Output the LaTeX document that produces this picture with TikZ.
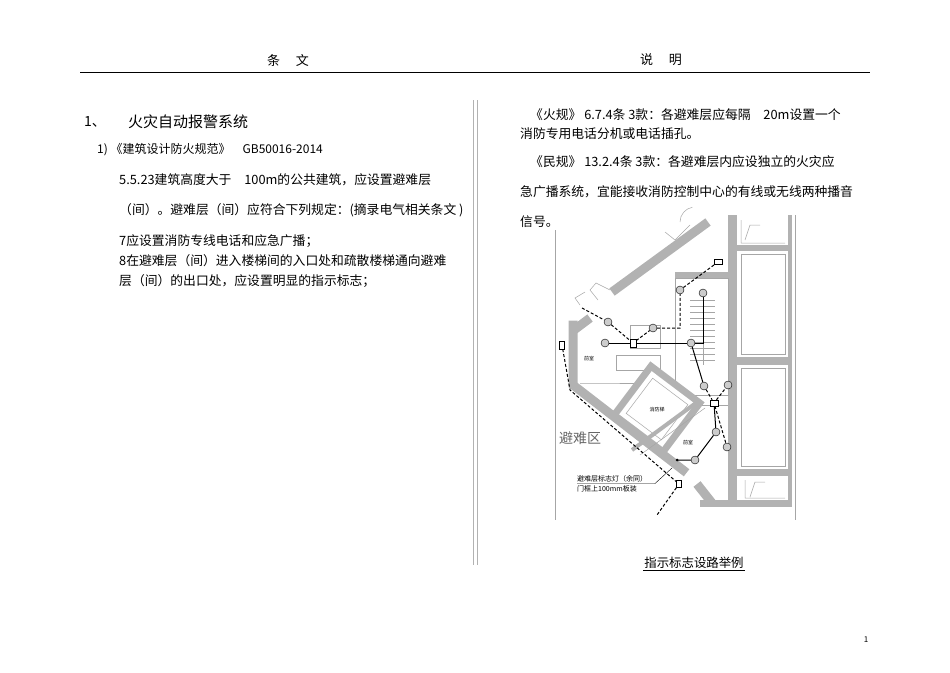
\documentclass[tikz,border=0pt]{standalone}
\usepackage{fontspec}
\setmainfont{Noto Sans CJK SC}
\begin{document}
\begin{tikzpicture}[x=1pt,y=-1pt,
  txt/.style={anchor=west,inner sep=0pt,font=\fontsize{12.8}{14}\selectfont},
  wall/.style={line width=9pt,draw=gray!60},
  thin/.style={draw=gray!70,line width=0.5pt},
  dev/.style={circle,draw=black,fill=gray!40,inner sep=0pt,minimum size=8pt},
  sol/.style={line width=1pt},
  dsh/.style={line width=1pt,dash pattern=on 3pt off 2pt},
  lab/.style={inner sep=0pt,font=\fontsize{5}{6}\selectfont}]
\useasboundingbox (0,0) rectangle (950,672);
% header
\node[inner sep=0pt,font=\fontsize{13}{15}\selectfont] (h1) at (288,60) {条\hspace{1.2em}文};
\node[inner sep=0pt,font=\fontsize{13}{15}\selectfont] (h2) at (661,60) {说\hspace{1.2em}明};
\draw[line width=0.6pt] (80,72) -- (870,72);
\draw[gray!60,line width=0.6pt] (473,100) -- (473,565) (477,100) -- (477,565);
% left text
\node[anchor=west,inner sep=0pt,font=\fontsize{14}{16}\selectfont] (n1) at (84,122) {1、};
\node[anchor=west,inner sep=0pt,font=\fontsize{15}{17}\selectfont] (t1) at (128,122) {火灾自动报警系统};
\node[txt,font=\fontsize{12}{14}\selectfont] (t2) at (97,150) {1) 《建筑设计防火规范》\quad GB50016-2014};
\node[txt] (t3) at (119,180) {5.5.23建筑高度大于\quad 100m的公共建筑，应设置避难层};
\node[txt] (t4) at (119,210) {（间）。避难层（间）应符合下列规定：(摘录电气相关条文 )};
\node[txt] (t5) at (119,241) {7应设置消防专线电话和应急广播；};
\node[txt] (t6) at (119,261) {8在避难层（间）进入楼梯间的入口处和疏散楼梯通向避难};
\node[txt] (t7) at (119,281) {层（间）的出口处，应设置明显的指示标志；};
% right text
\node[txt] (r1) at (530,115) {《火规》 6.7.4条 3款：各避难层应每隔\quad 20m设置一个};
\node[txt] (r2) at (520,134) {消防专用电话分机或电话插孔。};
\node[txt] (r3) at (530,162) {《民规》 13.2.4条 3款：各避难层内应设独立的火灾应};
\node[txt] (r4) at (520,192) {急广播系统，宜能接收消防控制中心的有线或无线两种播音};
\node[txt] (r5) at (520,222) {信号。};
\node[inner sep=1pt,font=\fontsize{12.4}{14}\selectfont] (cap) at (694,563) {指示标志设路举例};
\draw[line width=0.6pt] (cap.south west) -- (cap.south east);
\node[inner sep=0pt,font=\fontsize{8}{9}\selectfont] (pg) at (866,640) {1};
% ---------- floor plan ----------
\draw[thin] (555,230) -- (555,520);
\draw[thin] (795,215) -- (795,520);
% right rooms
\fill[gray!60] (728,215) rectangle (737,505);
\fill[gray!60] (737,245) rectangle (792,251);
\fill[gray!60] (737,357) rectangle (792,365);
\fill[gray!60] (737,469) rectangle (792,476);
\fill[gray!60] (700,500) rectangle (792,507);
\fill[gray!60] (788,215) rectangle (792,507);
\draw[thin] (741,254) rectangle (785,354) (741,368) rectangle (785,466);
\draw[thin] (741,220) -- (741,243) -- (785,243) (745,240) -- (750,225) -- (760,225) (745,480) -- (745,498) -- (785,498) (750,497) -- (755,482) -- (765,482);
% stair
\fill[gray!60] (675,272) rectangle (728,278);
\draw[thin] (675,278) rectangle (728,395);
\foreach \y in {300,306,...,360} \draw[thin] (690,\y) -- (715,\y);
\draw[thin] (703,290) -- (703,365);
% upper diagonal wall
\draw[wall] (612,292) -- (708,222);
\draw[thin] (690,225) -- (675,240) -- (665,232) (680,222) arc (180:260:15);
% left / main diagonal walls
\draw[wall,line cap=rect] (573,325) -- (573,385) -- (683,470);
\draw[wall] (697,484) -- (712,503);
\draw[wall] (590,318) -- (574,330);
\draw[thin] (598,300) -- (590,290) -- (596,283) -- (610,290) (580,305) -- (575,298) -- (585,292);
\draw[thin] (580,383) -- (600,383) -- (640,383) (616,355) rectangle (660,370) (630,325) rectangle (660,348);
\draw[thin] (655,395) -- (675,395) (700,405) -- (728,405);
% elevator
\begin{scope}[shift={(657,409)},rotate=-37]
\fill[gray!60] (-34,-34) rectangle (34,34);
\fill[white] (-27,-27) rectangle (27,27);
\draw[thin] (-22,-22) rectangle (22,22);
\end{scope}
\draw[line width=4pt,gray!60] (632,450) -- (700,400);
\draw[thin] (640,455) -- (705,408);
% devices and wiring
\coordinate (a0) at (582,308);
\node[dev] (d1) at (608,322) {};
\node[dev] (d2) at (653,328) {};
\node[dev] (d3) at (605,343) {};
\node[dev] (d4) at (691,343) {};
\node[dev] (d5) at (680,290) {};
\node[dev] (d6) at (703,293) {};
\node[dev] (d7) at (704,386) {};
\node[dev] (d8) at (728,385) {};
\node[dev] (d9) at (716,432) {};
\node[dev] (d10) at (727,447) {};
\node[dev] (d11) at (695,460) {};
\node[draw,fill=white,inner sep=0pt,minimum width=6pt,minimum height=8pt] (e1) at (633,343) {};
\node[draw,fill=white,inner sep=0pt,minimum width=8pt,minimum height=5pt] (e2) at (718,262) {};
\node[draw,fill=white,inner sep=0pt,minimum width=5pt,minimum height=8pt] (e3) at (562,345) {};
\node[draw,fill=white,inner sep=0pt,minimum width=8pt,minimum height=6pt] (e4) at (714,403) {};
\node[draw,fill=white,inner sep=0pt,minimum width=5pt,minimum height=7pt] (e5) at (679,484) {};
\coordinate (c1) at (680,328);
\coordinate (c2) at (677,460);
\coordinate (c3) at (657,515);
\coordinate (c4) at (570,390);
\draw[sol] (d3) -- (e1) -- (d4);
\draw[sol] (d6) |- (d4);
\draw[sol] (d4) -- (d7);
\draw[sol] (d9) -- (d11) -- (c2);
\draw[sol] (e4) -- (d9);
\draw[dsh] (a0) -- (d1) -- (e1) -- (d2) -- (c1) -- (d5) -- (e2);
\draw[dsh] (d7) -- (e4) -- (d8);
\draw[dsh] (e4) -- (d10);
\draw[dsh] (e3) -- (c4) -- (e5) -- (c3);
\fill (c2) circle (1.5pt);
% labels
\node[inner sep=0pt,text=gray!80!black,font=\fontsize{14}{16}\selectfont] (zone) at (580,438) {避难区};
\node[lab] (q1) at (589,359) {前室};
\node[lab] (q2) at (688,443) {前室};
\node[lab] (q3) at (657,410) {消防梯};
\node[inner sep=0pt,anchor=south west,font=\fontsize{7}{8}\selectfont] (l1) at (577,482) {避难层标志灯（余同）};
\node[inner sep=0pt,anchor=north west,font=\fontsize{7}{8}\selectfont] (l2) at (577,485) {门框上100mm板装};
\draw[line width=0.4pt] (577,483.5) -- (655,483.5) -- (672,468);
\end{tikzpicture}
\end{document}
